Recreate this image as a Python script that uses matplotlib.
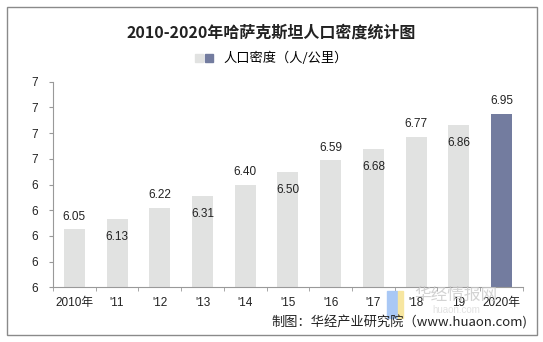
import numpy as np
import matplotlib.pyplot as plt
from matplotlib.patches import Patch, Rectangle
from matplotlib.legend_handler import HandlerTuple
from matplotlib.ticker import FixedLocator, FuncFormatter

plt.rcParams['font.family'] = ['Liberation Sans', 'Noto Sans CJK SC', 'DejaVu Sans']

years = ["2010年", "'11", "'12", "'13", "'14", "'15", "'16", "'17", "'18", "19", "2020年"]
density = [6.05, 6.13, 6.22, 6.31, 6.40, 6.50, 6.59, 6.68, 6.77, 6.86, 6.95]
labels_above = [True, False, True, False, True, False, True, False, True, False, True]

gray = '#e1e2e1'
blue = '#737c9f'

fig = plt.figure(figsize=(5.43, 3.42), dpi=100)
ax = fig.add_axes([0.0976, 0.16, 0.8654, 0.601])

x = np.arange(len(years))
colors = [gray] * (len(years) - 1) + [blue]
ax.bar(x, density, width=0.49, color=colors, zorder=2)

for xi, v, up in zip(x, density, labels_above):
    off = 9 if up else -13
    ax.annotate(f'{v:.2f}', (xi, v), xytext=(0, off), textcoords='offset points',
                ha='center', va='center', fontsize=8.5, color='#222222')

ax.set_ylim(5.6, 7.2)
ax.set_xlim(-0.5, len(years) - 0.5)
ax.set_yticks(np.arange(5.6, 7.21, 0.2))
ax.yaxis.set_major_formatter(FuncFormatter(lambda v, p: f'{v:.0f}'))
ax.tick_params(axis='y', length=3, pad=8, labelsize=8.5, color='#999999', labelcolor='#222222')

ax.set_xticks(x)
ax.set_xticklabels(years)
ax.xaxis.set_minor_locator(FixedLocator(np.arange(-0.5, len(years), 1)))
ax.tick_params(axis='x', which='major', length=0, pad=7, labelsize=8.5, labelcolor='#222222')
ax.tick_params(axis='x', which='minor', length=3, color='#999999')

for s in ['top', 'right']:
    ax.spines[s].set_visible(False)
for s in ['left', 'bottom']:
    ax.spines[s].set_color('#999999')
    ax.spines[s].set_linewidth(0.8)

fig.text(0.5, 0.905, '2010-2020年哈萨克斯坦人口密度统计图', ha='center', va='center',
         fontsize=11.5, fontweight='bold', family=['Noto Sans CJK SC'], color='#222222')

handle = (Patch(color=gray), Patch(color=blue))
fig.legend([handle], ['人口密度（人/公里）'], loc='center', bbox_to_anchor=(0.5, 0.828),
           handler_map={tuple: HandlerTuple(ndivide=None, pad=0.2)},
           frameon=False, handlelength=1.4, handleheight=0.6,
           prop={'family': ['Noto Sans CJK SC'], 'size': 9.5})

# watermark
fig.patches.append(Rectangle((0.713, 0.07), 0.018, 0.08, transform=fig.transFigure,
                             color='#a9c8f5', zorder=0))
fig.patches.append(Rectangle((0.733, 0.07), 0.01, 0.08, transform=fig.transFigure,
                             color='#f7e6a0', zorder=0))
fig.text(0.84, 0.135, '华经情报网', ha='center', va='center', fontsize=12,
         family=['Noto Sans CJK SC'], color='#c8c8c8', alpha=0.8)
fig.text(0.84, 0.093, 'huaon.com', ha='center', va='center', fontsize=7,
         color='#e2e2e2')

fig.text(0.972, 0.058, '制图：华经产业研究院（www.huaon.com)', ha='right', va='center',
         fontsize=9.5, family=['Noto Sans CJK SC', 'DejaVu Sans'], color='#222222')

fig.patches.append(Rectangle((0.013, 0.02), 0.976, 0.96, transform=fig.transFigure,
                             fill=False, edgecolor='#8a8a8a', linewidth=1))

fig.savefig('out.png', dpi=100)
